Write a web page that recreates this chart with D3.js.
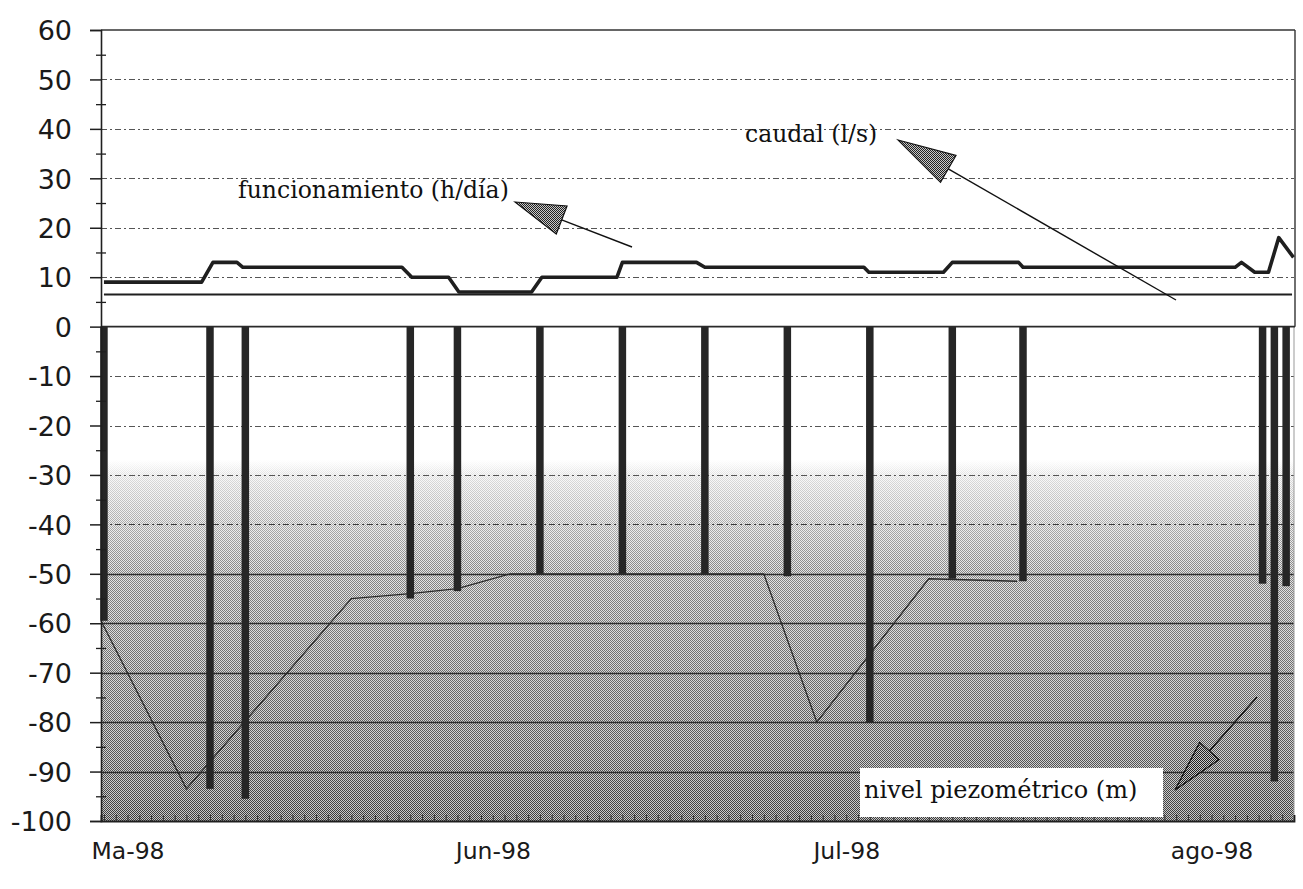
<!DOCTYPE html>
<html>
<head>
<meta charset="utf-8">
<script src="https://cdn.jsdelivr.net/npm/d3@7"></script>
<style>
  html, body { margin: 0; padding: 0; background: #fff; }
  svg { display: block; }
</style>
</head>
<body>
<svg id="chart" width="1303" height="889"></svg>
<script>
// Pozo de bombeo: funcionamiento, caudal y nivel piezométrico (mayo–agosto 1998)

// Eje X: inicio de cada mes y sus etiquetas
const monthTicks = ["1998-05-01", "1998-06-01", "1998-07-01", "1998-08-01"];
const monthLabels = ["Ma-98", "Jun-98", "Jul-98", "ago-98"];

// Eje Y
const yMajorTicks = [60, 50, 40, 30, 20, 10, 0, -10, -20, -30, -40, -50, -60, -70, -80, -90, -100];
const yMinorTicks = [55, 45, 35, 25, 15, 5, -5, -15, -25, -35, -45, -55, -65, -75, -85, -95];

// Nivel piezométrico medido (m): barras desde 0
const nivelDates = ["1998-04-29", "1998-05-08", "1998-05-11", "1998-05-25", "1998-05-29",
                    "1998-06-05", "1998-06-12", "1998-06-19", "1998-06-26", "1998-07-03",
                    "1998-07-10", "1998-07-16", "1998-08-05 08:00", "1998-08-06 08:00", "1998-08-07 08:00"];
const nivelValues = [-59.5, -93.5, -95.5, -55, -53.5, -50, -50, -50, -50.5, -80, -51, -51.5, -52, -92, -52.5];

// Nivel piezométrico (m): línea
const nivelLineDates = ["1998-04-28 18:00", "1998-05-06", "1998-05-20", "1998-05-25", "1998-05-29",
                        "1998-06-02 12:00", "1998-06-24", "1998-06-28 12:00", "1998-07-08", "1998-07-15 12:00"];
const nivelLineValues = [-59.5, -93.5, -55, -54, -53, -50, -50, -80, -51, -51.5];

// Funcionamiento (h/día)
const funcDates = ["1998-04-29", "1998-05-07 07:00", "1998-05-08 06:00", "1998-05-10 07:00", "1998-05-10 19:00",
                   "1998-05-24 07:00", "1998-05-25 03:00", "1998-05-28 06:00", "1998-05-29 03:00",
                   "1998-06-04 07:00", "1998-06-05 04:00", "1998-06-11 13:00", "1998-06-12",
                   "1998-06-18 07:00", "1998-06-19", "1998-07-02 12:00", "1998-07-02 22:00",
                   "1998-07-09 06:00", "1998-07-10", "1998-07-15 15:00", "1998-07-16",
                   "1998-08-03", "1998-08-03 13:00", "1998-08-04 16:00", "1998-08-05 20:00",
                   "1998-08-06 17:00", "1998-08-07 23:00"];
const funcValues = [9, 9, 13, 13, 12, 12, 10, 10, 7, 7, 10, 10, 13, 13, 12, 12, 11, 11, 13, 13, 12,
                    12, 13, 11, 11, 18, 14];

// Caudal (l/s)
const caudalDates = ["1998-04-29", "1998-05-25", "1998-06-19", "1998-07-16", "1998-08-07 20:00"];
const caudalValues = [6.5, 6.5, 6.5, 6.5, 6.5];

(function () {
  const parse = s => {
    const [d, t] = s.split(" ");
    return new Date(`${d}T${t || "00:00"}:00Z`);
  };

  const svg = d3.select("#chart");
  const pL = 101, pR = 1294, pT = 30, pB = 821;

  const x = d3.scaleUtc()
    .domain([parse("1998-04-28 18:00"), parse("1998-08-08")])
    .range([pL, pR]);
  const y = d3.scaleLinear().domain([-100, 60]).range([pB, pT]);

  const ink = "#1f1f1f";

  // ---------- defs: tramas y degradados ----------
  const defs = svg.append("defs");

  const checker = defs.append("pattern")
    .attr("id", "halftone").attr("patternUnits", "userSpaceOnUse")
    .attr("width", 2).attr("height", 2);
  checker.append("rect").attr("x", 0).attr("y", 0).attr("width", 1).attr("height", 1).attr("fill", "#000");
  checker.append("rect").attr("x", 1).attr("y", 1).attr("width", 1).attr("height", 1).attr("fill", "#000");

  const headPat = defs.append("pattern")
    .attr("id", "headfill").attr("patternUnits", "userSpaceOnUse")
    .attr("width", 2).attr("height", 2);
  headPat.append("rect").attr("width", 2).attr("height", 2).attr("fill", "#c8c8c8");
  headPat.append("rect").attr("x", 0).attr("y", 0).attr("width", 1).attr("height", 1).attr("fill", "#222");
  headPat.append("rect").attr("x", 1).attr("y", 1).attr("width", 1).attr("height", 1).attr("fill", "#222");

  const baseGrad = defs.append("linearGradient")
    .attr("id", "baseGrad").attr("x1", 0).attr("y1", 0).attr("x2", 0).attr("y2", 1);
  [[0, "#ffffff"], [0.27, "#ffffff"], [0.31, "#f7f7f7"], [0.4, "#eeeeee"], [0.55, "#e0e0e0"],
   [0.75, "#d6d6d6"], [0.9, "#cecece"], [1, "#c6c6c6"]]
    .forEach(([o, c]) => baseGrad.append("stop").attr("offset", o).attr("stop-color", c));

  const maskGrad = defs.append("linearGradient")
    .attr("id", "maskGrad").attr("x1", 0).attr("y1", 0).attr("x2", 0).attr("y2", 1);
  [[0, 0], [0.27, 0], [0.31, 0.12], [0.4, 0.28], [0.5, 0.42], [0.7, 0.5], [0.88, 0.6], [1, 0.7]]
    .forEach(([o, a]) => maskGrad.append("stop").attr("offset", o)
      .attr("stop-color", "#fff").attr("stop-opacity", a));

  const mask = defs.append("mask").attr("id", "fadeMask")
    .attr("maskUnits", "userSpaceOnUse")
    .attr("x", pL).attr("y", y(0)).attr("width", pR - pL).attr("height", y(-100) - y(0));
  mask.append("rect")
    .attr("x", pL).attr("y", y(0)).attr("width", pR - pL).attr("height", y(-100) - y(0))
    .attr("fill", "url(#maskGrad)");

  // ---------- fondo del semieje negativo ----------
  const bg = svg.append("g");
  bg.append("rect")
    .attr("x", pL).attr("y", y(0)).attr("width", pR - pL).attr("height", y(-100) - y(0))
    .attr("fill", "url(#baseGrad)");
  bg.append("rect")
    .attr("x", pL).attr("y", y(0)).attr("width", pR - pL).attr("height", y(-100) - y(0))
    .attr("fill", "url(#halftone)").attr("mask", "url(#fadeMask)");

  // ---------- rejilla ----------
  const grid = svg.append("g");
  yMajorTicks.filter(v => v !== 60 && v !== 0 && v !== -100).forEach(v => {
    const solid = v <= -50;
    grid.append("line")
      .attr("x1", pL).attr("x2", pR)
      .attr("y1", Math.round(y(v)) + 0.5).attr("y2", Math.round(y(v)) + 0.5)
      .attr("stroke", solid ? "#2e2e2e" : (v <= -40 ? "#3a3a3a" : "#555"))
      .attr("stroke-width", solid ? 1.3 : 1)
      .attr("stroke-dasharray", solid ? null : "6,3,2,3");
  });

  // ---------- series ----------
  const lineGen = d3.line().x(d => x(d[0])).y(d => y(d[1]));

  // caudal
  svg.append("path")
    .datum(caudalDates.map((d, i) => [parse(d), caudalValues[i]]))
    .attr("d", lineGen).attr("fill", "none")
    .attr("stroke", ink).attr("stroke-width", 2);

  // funcionamiento
  svg.append("path")
    .datum(funcDates.map((d, i) => [parse(d), funcValues[i]]))
    .attr("d", lineGen).attr("fill", "none")
    .attr("stroke", ink).attr("stroke-width", 3.6).attr("stroke-linejoin", "round");

  // nivel piezométrico (línea)
  svg.append("path")
    .datum(nivelLineDates.map((d, i) => [parse(d), nivelLineValues[i]]))
    .attr("d", lineGen).attr("fill", "none")
    .attr("stroke", "#2a2a2a").attr("stroke-width", 1.3);

  // nivel piezométrico (barras)
  const barW = 7.5;
  svg.append("g").selectAll("rect")
    .data(nivelDates.map((d, i) => [parse(d), nivelValues[i]]))
    .join("rect")
    .attr("x", d => x(d[0]) - barW / 2)
    .attr("y", y(0))
    .attr("width", barW)
    .attr("height", d => y(d[1]) - y(0))
    .attr("fill", "#262626");

  // ---------- marco ----------
  const frame = svg.append("g").attr("fill", "none");
  frame.append("line").attr("x1", pL).attr("x2", pR + 1).attr("y1", pT).attr("y2", pT)
    .attr("stroke", "#333").attr("stroke-width", 1.4);
  frame.append("line").attr("x1", pR + 1).attr("x2", pR + 1).attr("y1", pT).attr("y2", y(0))
    .attr("stroke", "#333").attr("stroke-width", 1.4);
  frame.append("line").attr("x1", pR).attr("x2", pR).attr("y1", y(0)).attr("y2", pB)
    .attr("stroke", "#999").attr("stroke-width", 1);
  frame.append("line").attr("x1", pL).attr("x2", pR + 1).attr("y1", y(0)).attr("y2", y(0))
    .attr("stroke", "#2a2a2a").attr("stroke-width", 1.6);

  // ---------- ejes ----------
  const yAxis = svg.append("g")
    .attr("transform", `translate(${pL},0)`)
    .call(d3.axisLeft(y).tickValues(yMajorTicks).tickSize(11).tickPadding(18)
      .tickFormat(d => String(d)));
  yAxis.select(".domain").attr("stroke", ink).attr("stroke-width", 1.6);
  yAxis.selectAll(".tick line").attr("stroke", ink).attr("stroke-width", 1.5);
  yAxis.selectAll(".tick text")
    .attr("font-family", "'DejaVu Sans', sans-serif").attr("font-size", 27)
    .attr("dy", "0.36em").attr("fill", "#1a1a1a");

  const yMinor = svg.append("g")
    .attr("transform", `translate(${pL + 5},0)`)
    .call(d3.axisLeft(y).tickValues(yMinorTicks).tickSize(10).tickFormat(""));
  yMinor.select(".domain").remove();
  yMinor.selectAll(".tick line").attr("stroke", ink).attr("stroke-width", 1.3);

  const xDays = d3.utcDay.range(d3.utcDay.ceil(x.domain()[0]), x.domain()[1]);
  const xMinor = svg.append("g")
    .attr("transform", `translate(0,${pB})`)
    .call(d3.axisBottom(x).tickValues(xDays).tickSize(-6).tickFormat(""));
  xMinor.select(".domain").attr("stroke", ink).attr("stroke-width", 1.8);
  xMinor.selectAll(".tick line").attr("stroke", "#333").attr("stroke-width", 1);

  const xAxis = svg.append("g")
    .attr("transform", `translate(0,${pB})`)
    .call(d3.axisBottom(x).tickValues(monthTicks.map(parse)).tickSize(0).tickPadding(21)
      .tickFormat((d, i) => monthLabels[i]));
  xAxis.select(".domain").remove();
  xAxis.selectAll(".tick text")
    .attr("font-family", "'DejaVu Sans', sans-serif").attr("font-size", 23.5).attr("fill", "#1a1a1a");

  // ---------- rótulos con flecha ----------
  function arrow(tail, tip, headLen, headW) {
    const dx = tip[0] - tail[0], dy = tip[1] - tail[1];
    const len = Math.hypot(dx, dy);
    const ux = dx / len, uy = dy / len;
    const bx = tip[0] - ux * headLen, by = tip[1] - uy * headLen;
    const px = -uy * headW / 2, py = ux * headW / 2;
    const g = svg.append("g");
    g.append("line").attr("x1", tail[0]).attr("y1", tail[1]).attr("x2", bx).attr("y2", by)
      .attr("stroke", "#111").attr("stroke-width", 1.4);
    g.append("polygon")
      .attr("points", [[tip[0], tip[1]], [bx + px, by + py], [bx - px, by - py]].map(p => p.join(",")).join(" "))
      .attr("fill", "url(#headfill)").attr("stroke", "#111").attr("stroke-width", 1.2)
      .attr("stroke-linejoin", "miter");
  }

  const serif = "'DejaVu Serif', 'Liberation Serif', serif";

  svg.append("text").attr("x", 238).attr("y", 198)
    .attr("font-family", serif).attr("font-size", 23.5).attr("fill", "#111")
    .text("funcionamiento (h/día)");
  arrow([632, 247], [515, 202], 50, 30);

  svg.append("text").attr("x", 745).attr("y", 142)
    .attr("font-family", serif).attr("font-size", 23.5).attr("fill", "#111")
    .text("caudal (l/s)");
  arrow([1176, 300], [898, 140], 58, 31);

  svg.append("rect").attr("x", 860).attr("y", 768).attr("width", 303).attr("height", 49).attr("fill", "#fff");
  svg.append("text").attr("x", 864).attr("y", 798)
    .attr("font-family", serif).attr("font-size", 24).attr("fill", "#111")
    .text("nivel piezométrico (m)");
  arrow([1257, 697], [1175, 790], 52, 26);
})();
</script>
</body>
</html>
